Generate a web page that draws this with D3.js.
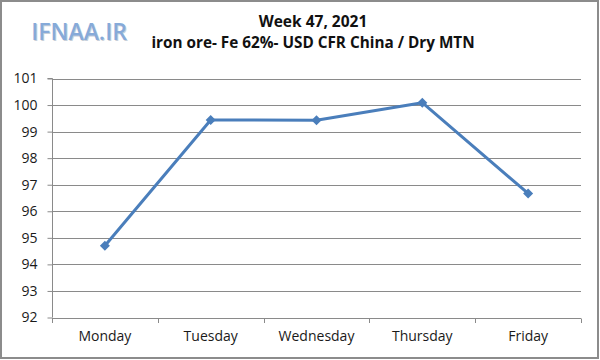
<!DOCTYPE html>
<html><head><meta charset="utf-8">
<script src="https://cdn.jsdelivr.net/npm/d3@7"></script>
<style>html,body{margin:0;padding:0;background:#fff;}svg{display:block;}</style>
</head><body>
<script>
const categories = ["Monday","Tuesday","Wednesday","Thursday","Friday"];
const values = [94.70, 99.44, 99.43, 100.09, 96.67];
const yTicks = [92,93,94,95,96,97,98,99,100,101];
const titleLines = ["Week 47, 2021","iron ore- Fe 62%- USD CFR China / Dry MTN"];
const logoText = "IFNAA.IR";

(function(){
const W = 600, H = 360;
const svg = d3.select("body").append("svg").attr("width", W).attr("height", H);
svg.append("rect").attr("x",1).attr("y",1).attr("width",W-3).attr("height",H-3)
  .attr("fill","#fff").attr("stroke","#8c8c8c").attr("stroke-width",2);

const pl = 52, pr = 581, pt = 78.5, pb = 317.5;
const x = d3.scaleBand().domain(categories).range([pl, pr]).padding(0);
const y = d3.scaleLinear().domain([92,101]).range([pb, pt]);
const font = "'Open Sans', 'DejaVu Sans', sans-serif";

// gridlines
svg.append("g").selectAll("line").data(yTicks.filter(d=>d>92)).join("line")
  .attr("x1", pl).attr("x2", pr)
  .attr("y1", d=>Math.round(y(d))+0.5).attr("y2", d=>Math.round(y(d))+0.5)
  .attr("stroke","#8a8a8a").attr("stroke-width",1);

// y axis
const ya = svg.append("g").attr("transform",`translate(${pl+0.5},0)`)
  .call(d3.axisLeft(y).tickValues(yTicks).tickSize(5).tickPadding(10).tickFormat(d3.format("d")));
ya.select(".domain").attr("stroke","#8a8a8a").attr("d",`M-5,${pt}H0V${pb}`);
ya.selectAll(".tick line").attr("stroke","#8a8a8a");
ya.selectAll(".tick text").attr("fill","#1a1a1a").style("font-family",font).style("font-size","14px");

// x axis
const xa = svg.append("g").attr("transform",`translate(0,${Math.round(pb)+0.5})`)
  .call(d3.axisBottom(x).tickSize(0).tickPadding(13));
xa.select(".domain").attr("stroke","#8a8a8a").attr("d",`M${pl},0H${pr}`);
xa.selectAll(".tick text").attr("fill","#1a1a1a").style("font-family",font).style("font-size","14px");
const bounds = categories.map(c=>x(c)).concat([pr]);
svg.append("g").selectAll("line").data(bounds).join("line")
  .attr("x1",d=>Math.round(d)+0.5).attr("x2",d=>Math.round(d)+0.5)
  .attr("y1",Math.round(pb)+0.5).attr("y2",Math.round(pb)+5)
  .attr("stroke","#8a8a8a");

// line
const cx = d => x(d) + x.bandwidth()/2;
const pts = categories.map((c,i)=>[cx(c), y(values[i])]);
svg.append("path").attr("d", d3.line()(pts)).attr("fill","none")
  .attr("stroke","#4a7ebb").attr("stroke-width",3).attr("stroke-linejoin","round");
svg.append("g").selectAll("path").data(pts).join("path")
  .attr("d", d3.symbol(d3.symbolSquare, 50)())
  .attr("transform", d=>`translate(${d[0]},${d[1]}) rotate(45)`)
  .attr("fill","#4a7ebb");

// titles
svg.append("g").selectAll("text").data(titleLines).join("text")
  .attr("x", 313).attr("y",(d,i)=>27+i*21)
  .attr("text-anchor","middle").attr("font-weight","bold")
  .style("font-family",font).style("font-size",(d,i)=>i===0?"15.5px":"15.3px")
  .attr("fill","#111").text(d=>d);

// logo
svg.append("text").attr("x",80).attr("y",41).attr("text-anchor","middle")
  .style("font-family",font).style("font-size","23px").attr("font-weight","600")
  .attr("fill","#c8d0da").text(logoText);
svg.append("text").attr("x",79).attr("y",40).attr("text-anchor","middle")
  .style("font-family",font).style("font-size","23px").attr("font-weight","600")
  .attr("fill","#86aad9").text(logoText);
})();
</script>
</body></html>
